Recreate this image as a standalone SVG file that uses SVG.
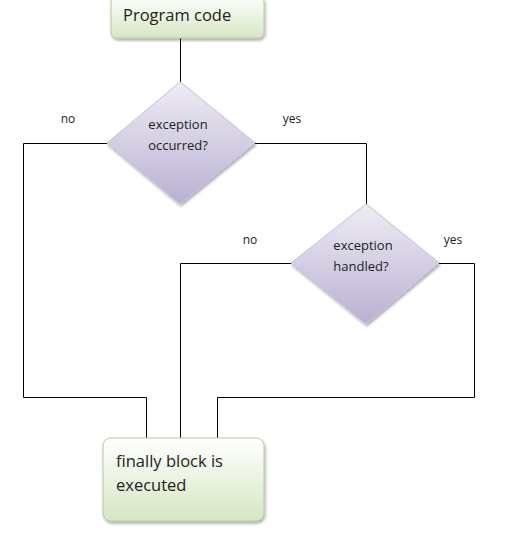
<svg xmlns="http://www.w3.org/2000/svg" width="512" height="533" viewBox="0 0 512 533">
<defs>
<linearGradient id="gGreen" x1="0" y1="0" x2="0" y2="1">
<stop offset="0" stop-color="#ffffff"/>
<stop offset="1" stop-color="#d6e6c2"/>
</linearGradient>
<linearGradient id="gPurple" x1="0" y1="0" x2="0" y2="1">
<stop offset="0" stop-color="#efecf4"/>
<stop offset="1" stop-color="#b9b0d2"/>
</linearGradient>
<filter id="sh" x="-10%" y="-10%" width="130%" height="130%">
<feGaussianBlur in="SourceAlpha" stdDeviation="1.5"/>
<feOffset dx="1" dy="2" result="b"/>
<feComponentTransfer><feFuncA type="linear" slope="0.35"/></feComponentTransfer>
<feMerge><feMergeNode/><feMergeNode in="SourceGraphic"/></feMerge>
</filter>
</defs>
<style>
.box{fill:url(#gGreen);stroke:#b8cca0;stroke-width:1}
.dia{fill:url(#gPurple);stroke:#c8c0da;stroke-width:1}
.conn{fill:none;stroke:#000;stroke-width:1}
.t{font-family:"Open Sans","Liberation Sans",sans-serif;fill:#222}
.big{font-size:16.5px}
.small{font-size:13px}
.lbl{font-size:12px}
</style>
<g id="connectors">
<path class="conn" d="M180.5,38 V82"/>
<path class="conn" d="M107,143.5 H23.5 V397.5 H146.5 V438"/>
<path class="conn" d="M253,143.5 H366.5 V205"/>
<path class="conn" d="M292,263.5 H180.5 V438"/>
<path class="conn" d="M438,263.5 H474.5 V397.5 H217.5 V438"/>
</g>
<g id="program-code">
<rect class="box" x="111" y="-4" width="153" height="42" rx="6" filter="url(#sh)"/>
<text class="t big" x="123" y="21">Program code</text>
</g>
<g id="exception-occurred">
<polygon class="dia" points="180,82 255,143 180,204 107,143" filter="url(#sh)"/>
<text class="t small" x="178" y="129" text-anchor="middle">exception</text>
<text class="t small" x="178" y="150" text-anchor="middle">occurred?</text>
</g>
<g id="exception-handled">
<polygon class="dia" points="366,204 439,263 366,324 291,263" filter="url(#sh)"/>
<text class="t small" x="363" y="250" text-anchor="middle">exception</text>
<text class="t small" x="361" y="271" text-anchor="middle">handled?</text>
</g>
<g id="finally-block">
<rect class="box" x="103" y="438" width="161" height="83" rx="8" filter="url(#sh)"/>
<text class="t big" x="116" y="467">finally block is</text>
<text class="t big" x="116" y="491">executed</text>
</g>
<g id="labels">
<text class="t lbl" x="68" y="123" text-anchor="middle">no</text>
<text class="t lbl" x="292" y="123" text-anchor="middle">yes</text>
<text class="t lbl" x="250" y="244" text-anchor="middle">no</text>
<text class="t lbl" x="453" y="244" text-anchor="middle">yes</text>
</g>
</svg>
